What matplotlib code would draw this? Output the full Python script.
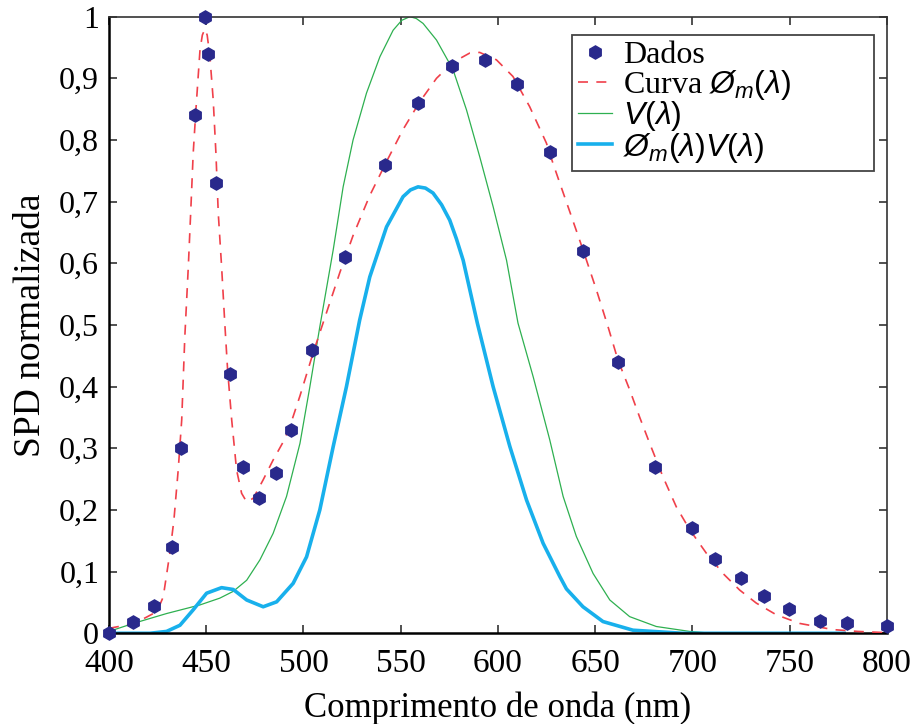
import matplotlib
matplotlib.use("Agg")
import matplotlib.pyplot as plt
from matplotlib.ticker import FixedLocator, FixedFormatter

# pontos medidos (nm, SPD normalizada)
dados_x = [400, 412.3, 423.1, 432.2, 437.0, 444.2, 449.3, 451.0, 455.0, 462.2,
           468.9, 477.0, 485.9, 493.8, 504.3, 521.3, 542.1, 559.0, 576.3, 593.2,
           609.8, 626.8, 643.6, 661.6, 680.6, 699.6, 711.6, 724.8, 736.7, 749.6,
           765.8, 779.7, 799.8]
dados_y = [0.0, 0.018, 0.044, 0.14, 0.30, 0.84, 1.00, 0.94, 0.73, 0.42,
           0.27, 0.22, 0.26, 0.33, 0.46, 0.61, 0.76, 0.86, 0.92, 0.93,
           0.89, 0.78, 0.62, 0.44, 0.27, 0.17, 0.12, 0.09, 0.06, 0.04,
           0.02, 0.016, 0.012]

# curva ajustada (tracejado vermelho)
curva_x = [400, 405, 412.5, 418, 422.8, 426, 427.9, 431.3, 433.4, 435.6,
           437.4, 439.0, 440.8, 442.0, 443.3, 444.7, 446.8, 448.0, 449.3, 450.5,
           451.9, 453.6, 455.0, 456.2, 457.9, 459.6, 461.0, 463.1, 465.6, 468.2,
           470.8, 474.2, 479.3, 484.4, 490.4, 494.0, 498.2, 505.0, 511.0, 518.7,
           525.5, 534.1, 542.7, 551.2, 559.8, 568.4, 576.9, 585.5, 590.6, 599.2,
           607.7, 616.3, 624.9, 628.3, 631.8, 637.0, 643.7, 650.6, 656.6, 661.7,
           667.7, 672.9, 678.0, 684.8, 691.7, 698.6, 707.1, 715.7, 724.3, 732.8,
           743.1, 755.1, 772.2, 785, 800]
curva_y = [0.008, 0.011, 0.016, 0.024, 0.032, 0.045, 0.059, 0.130, 0.184, 0.265,
           0.346, 0.481, 0.595, 0.681, 0.778, 0.849, 0.946, 0.970, 0.980, 0.970,
           0.935, 0.865, 0.778, 0.681, 0.595, 0.500, 0.427, 0.346, 0.265, 0.227,
           0.213, 0.219, 0.249, 0.281, 0.315, 0.345, 0.385, 0.455, 0.512, 0.585,
           0.645, 0.710, 0.765, 0.817, 0.862, 0.900, 0.926, 0.941, 0.942, 0.930,
           0.903, 0.854, 0.795, 0.762, 0.730, 0.683, 0.622, 0.557, 0.497, 0.443,
           0.395, 0.350, 0.308, 0.254, 0.205, 0.168, 0.130, 0.097, 0.070, 0.049,
           0.030, 0.016, 0.006, 0.003, 0.001]

# V(lambda)
v_x = [400, 412.5, 429.6, 446.8, 457.0, 463.9, 470.8, 477.6, 484.4, 491.3,
       498.2, 503.3, 508.4, 515.3, 520.4, 525.5, 532.4, 539.3, 546.1, 550.5,
       554.7, 558.0, 561.5, 568.4, 576.9, 583.8, 590.6, 597.5, 604.4, 610.3,
       618.1, 626.6, 633.5, 640.3, 648.9, 657.5, 667.7, 681.4, 698.6, 710]
v_y = [0.003, 0.016, 0.032, 0.046, 0.057, 0.068, 0.086, 0.119, 0.162, 0.222,
       0.308, 0.400, 0.497, 0.622, 0.724, 0.800, 0.876, 0.935, 0.978, 0.994,
       1.000, 0.997, 0.989, 0.962, 0.914, 0.849, 0.773, 0.692, 0.605, 0.503,
       0.416, 0.314, 0.222, 0.157, 0.097, 0.054, 0.027, 0.011, 0.003, 0.0]

# produto
prod_x = [400, 421, 429.6, 436.5, 443.3, 450.2, 457.9, 463.9, 470.8, 479.3,
          486.2, 494.7, 501.6, 508.4, 515.3, 522.1, 528.9, 534.1, 542.7, 551.2,
          555.0, 558.9, 562.7, 566.6, 571.0, 575.2, 578.6, 582.1, 589.4, 597.5,
          606.1, 614.7, 623.2, 631.8, 635.2, 643.7, 654.0, 669.4, 695, 778]
prod_y = [0.0, 0.0, 0.003, 0.013, 0.038, 0.065, 0.074, 0.071, 0.054, 0.043,
          0.051, 0.081, 0.124, 0.200, 0.303, 0.400, 0.508, 0.578, 0.659, 0.708,
          0.719, 0.724, 0.722, 0.714, 0.695, 0.670, 0.640, 0.605, 0.503, 0.400,
          0.303, 0.216, 0.146, 0.092, 0.072, 0.043, 0.019, 0.005, 0.0, 0.0]

xticks = [400, 450, 500, 550, 600, 650, 700, 750, 800]
yticks = [0, 0.1, 0.2, 0.3, 0.4, 0.5, 0.6, 0.7, 0.8, 0.9, 1]
ytick_labels = ['0', '0,1', '0,2', '0,3', '0,4', '0,5', '0,6', '0,7', '0,8', '0,9', '1']

plt.rcParams['font.family'] = ['Liberation Serif', 'DejaVu Serif']
plt.rcParams['mathtext.fontset'] = 'custom'
plt.rcParams['mathtext.rm'] = 'Liberation Sans'
plt.rcParams['mathtext.it'] = 'Liberation Sans:italic'

fig = plt.figure(figsize=(9.18, 7.24), dpi=100)
ax = fig.add_axes([0.1187, 0.1253, 0.8475, 0.8517])

ax.plot(curva_x, curva_y, color='#f0404a', lw=1.2, dashes=(6, 5),
        label=r'Curva $Ø_{m}(λ)$', zorder=3)
ax.plot(v_x, v_y, color='#2eb050', lw=0.9, label=r'$V(λ)$', zorder=2)
ax.plot(prod_x, prod_y, color='#18b0ec', lw=2.6, label=r'$Ø_{m}(λ)V(λ)$', zorder=2)
ax.plot(dados_x, dados_y, 'h', color='#29298c', ms=9.5, mec='#29298c',
        label='Dados', zorder=4, clip_on=False)

ax.set_xlim(400, 800)
ax.set_ylim(0, 1)
ax.xaxis.set_major_locator(FixedLocator(xticks))
ax.yaxis.set_major_locator(FixedLocator(yticks))
ax.yaxis.set_major_formatter(FixedFormatter(ytick_labels))
ax.tick_params(axis='both', direction='in', length=6, width=1.2,
               top=True, right=True, color='#333333')
ax.tick_params(axis='x', labelsize=24, pad=11)
ax.tick_params(axis='y', labelsize=23, pad=7)

for s in ['left', 'bottom']:
    ax.spines[s].set_linewidth(1.8)
    ax.spines[s].set_color('black')
for s in ['top', 'right']:
    ax.spines[s].set_linewidth(1.2)
    ax.spines[s].set_color('#333333')

ax.set_xlabel('Comprimento de onda (nm)', fontsize=25, labelpad=9)
ax.set_ylabel('SPD normalizada', fontsize=27, labelpad=8)

h, l = ax.get_legend_handles_labels()
order = [3, 0, 1, 2]
leg = ax.legend([h[i] for i in order], [l[i] for i in order],
                loc='upper left', bbox_to_anchor=(0.595, 0.5, 0.388, 0.471),
                mode='expand', borderaxespad=0,
                fontsize=23, numpoints=1, fancybox=False, framealpha=1,
                edgecolor='#444444', labelspacing=-0.08, handlelength=1.05,
                handletextpad=0.35, borderpad=0.2)
leg.get_frame().set_linewidth(1.3)

fig.savefig('out.png', dpi=100)
